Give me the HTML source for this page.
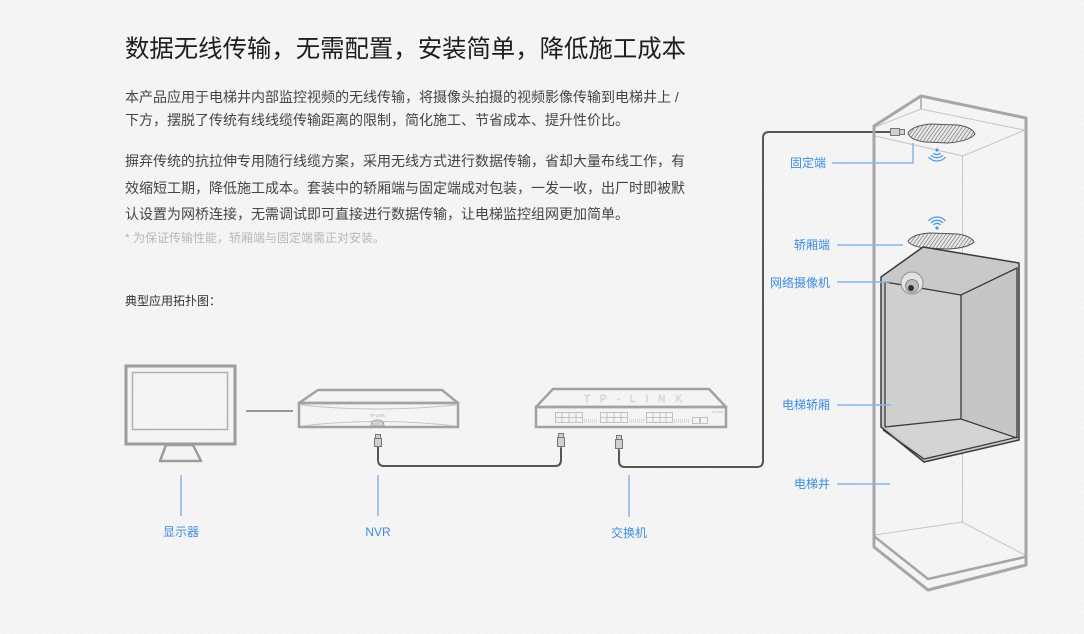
<!DOCTYPE html>
<html>
<head>
<meta charset="utf-8">
<style>
html,body{margin:0;padding:0;}
body{width:1084px;height:634px;overflow:hidden;position:relative;
background:#f5f5f5;
background-image:repeating-linear-gradient(135deg,rgba(0,0,0,0.012) 0 2px,rgba(255,255,255,0.0) 2px 5px);
font-family:"Liberation Sans","Noto Sans CJK SC",sans-serif;}
.t{position:absolute;white-space:nowrap;}
.title{left:125px;top:35px;font-size:24.4px;line-height:30px;color:#1e1e1e;}
.p{left:125px;font-size:14px;line-height:20px;color:#444;}
.note{left:125px;font-size:12px;line-height:20px;color:#b8b8b8;}
.topo{left:125px;font-size:12px;line-height:20px;color:#333;}
svg{position:absolute;left:0;top:0;}
</style>
</head>
<body>
<div class="t title">数据无线传输，无需配置，安装简单，降低施工成本</div>
<div class="t p" style="top:87px">本产品应用于电梯井内部监控视频的无线传输，将摄像头拍摄的视频影像传输到电梯井上 /</div>
<div class="t p" style="top:110px">下方，摆脱了传统有线线缆传输距离的限制，简化施工、节省成本、提升性价比。</div>
<div class="t p" style="top:151px">摒弃传统的抗拉伸专用随行线缆方案，采用无线方式进行数据传输，省却大量布线工作，有</div>
<div class="t p" style="top:178px">效缩短工期，降低施工成本。套装中的轿厢端与固定端成对包装，一发一收，出厂时即被默</div>
<div class="t p" style="top:204px">认设置为网桥连接，无需调试即可直接进行数据传输，让电梯监控组网更加简单。</div>
<div class="t note" style="top:228px">* 为保证传输性能，轿厢端与固定端需正对安装。</div>
<div class="t topo" style="top:291px">典型应用拓扑图：</div>

<svg width="1084" height="634" viewBox="0 0 1084 634" xmlns="http://www.w3.org/2000/svg">
<defs>
<pattern id="hatch" width="3" height="3" patternUnits="userSpaceOnUse" patternTransform="rotate(35)">
<rect width="3" height="3" fill="#e6e6e6"/>
<line x1="0" y1="0" x2="0" y2="3" stroke="#555" stroke-width="1"/>
</pattern>
</defs>

<!-- Monitor -->
<rect x="126" y="366" width="109" height="78" fill="none" stroke="#9c9c9c" stroke-width="3"/>
<rect x="132.5" y="372.5" width="95" height="57" fill="none" stroke="#b0b0b0" stroke-width="1.5"/>
<polygon points="166,445 193,445 201,461 160,461" fill="none" stroke="#9c9c9c" stroke-width="2.5" stroke-linejoin="round"/>

<!-- monitor-NVR line -->
<line x1="246" y1="411" x2="293" y2="411" stroke="#777" stroke-width="1.5"/>

<!-- NVR -->
<polygon points="318,390 442,390 458,403 299,403" fill="none" stroke="#a2a2a2" stroke-width="2.5" stroke-linejoin="round"/>
<rect x="299" y="403" width="159" height="24" fill="none" stroke="#a2a2a2" stroke-width="2.5"/>
<path d="M301,405 Q377,413 456,405" fill="none" stroke="#c4c4c4" stroke-width="1"/>
<path d="M301,426 Q377,417 456,426" fill="none" stroke="#c4c4c4" stroke-width="1"/>
<text x="377.5" y="417" font-size="4" fill="#aaa" text-anchor="middle" font-family="Liberation Serif,serif">TP-LINK</text>
<path d="M371,426 Q371,420 377.5,420 Q384,420 384,426 Z" fill="#d0d0d0" stroke="#999" stroke-width="0.8"/>
<line x1="374" y1="409" x2="375" y2="409" stroke="#ccc"/><line x1="378" y1="409" x2="379" y2="409" stroke="#ccc"/><line x1="382" y1="409" x2="383" y2="409" stroke="#ccc"/>

<!-- Switch -->
<polygon points="553,389 709,389 726,407 536,407" fill="none" stroke="#a2a2a2" stroke-width="2.5" stroke-linejoin="round"/>
<rect x="536" y="407" width="190" height="20" fill="none" stroke="#a2a2a2" stroke-width="2.5"/>
<text x="584" y="402" font-size="10" fill="none" stroke="#d4d4d4" stroke-width="0.7" textLength="98" lengthAdjust="spacing" font-family="Liberation Sans,sans-serif">TP-LINK</text>
<g fill="none" stroke="#b4b4b4" stroke-width="0.8">
<rect x="555.5" y="412.5" width="27" height="10"/><line x1="555.5" y1="417.5" x2="582.5" y2="417.5"/>
<line x1="562" y1="412.5" x2="562" y2="422.5"/><line x1="569" y1="412.5" x2="569" y2="422.5"/><line x1="576" y1="412.5" x2="576" y2="422.5"/>
<rect x="600.5" y="412.5" width="27" height="10"/><line x1="600.5" y1="417.5" x2="627.5" y2="417.5"/>
<line x1="607" y1="412.5" x2="607" y2="422.5"/><line x1="614" y1="412.5" x2="614" y2="422.5"/><line x1="621" y1="412.5" x2="621" y2="422.5"/>
<rect x="646.5" y="412.5" width="26" height="10"/><line x1="646.5" y1="417.5" x2="672.5" y2="417.5"/>
<line x1="653" y1="412.5" x2="653" y2="422.5"/><line x1="660" y1="412.5" x2="660" y2="422.5"/><line x1="666" y1="412.5" x2="666" y2="422.5"/>
<rect x="692.5" y="417.5" width="7" height="6"/><rect x="700.5" y="417.5" width="7" height="6"/>
</g>
<g stroke="#bdbdbd" stroke-width="1" stroke-dasharray="1,1">
<line x1="584" y1="420" x2="598" y2="420"/><line x1="584" y1="422" x2="598" y2="422"/>
<line x1="629" y1="420" x2="644" y2="420"/><line x1="629" y1="422" x2="644" y2="422"/>
<line x1="674" y1="420" x2="690" y2="420"/><line x1="674" y1="422" x2="690" y2="422"/>
</g>
<text x="712" y="413" font-size="3" fill="#aaa" font-family="Liberation Sans,sans-serif">TP-LINK</text>

<!-- cables -->
<g fill="none" stroke="#555" stroke-width="2" stroke-linecap="round">
<path d="M378,447 L378,460 Q378,466 384,466 L555,466 Q561,466 561,460 L561,448"/>
<path d="M619,450 L619,461 Q619,467 625,467 L757,467 Q763,467 763,461 L763,138 Q763,132 769,132 L891,132"/>
</g>
<!-- connectors -->
<g fill="#cfcfcf" stroke="#777" stroke-width="1">
<rect x="375.5" y="434.5" width="5" height="4"/><rect x="374.5" y="438.5" width="7" height="8"/>
<rect x="558.5" y="433.5" width="5" height="4"/><rect x="557.5" y="437.5" width="7" height="9"/>
<rect x="616.5" y="435.5" width="5" height="4"/><rect x="615.5" y="439.5" width="7" height="9"/>
<rect x="890.5" y="128.5" width="9" height="7"/><rect x="899.5" y="129.5" width="5" height="5"/>
</g>

<!-- blue leaders bottom -->
<g stroke="#86b7ea" stroke-width="1.5">
<line x1="181" y1="475" x2="181" y2="516"/>
<line x1="378" y1="475" x2="378" y2="516"/>
<line x1="629" y1="475" x2="629" y2="517"/>
</g>
<text x="181" y="536" font-size="12" fill="#3b8de0" text-anchor="middle" font-family="Liberation Sans,'Noto Sans CJK SC',sans-serif">显示器</text>
<text x="378" y="536" font-size="12" fill="#3b8de0" text-anchor="middle" font-family="Liberation Sans,'Noto Sans CJK SC',sans-serif">NVR</text>
<text x="629" y="537" font-size="12" fill="#3b8de0" text-anchor="middle" font-family="Liberation Sans,'Noto Sans CJK SC',sans-serif">交换机</text>

<!-- Shaft -->
<g fill="none" stroke="#c4c4c4" stroke-width="1">
<polyline points="875,127 921,109 1024,130"/>
<polyline points="875,136 963,156 1025,130"/>
<line x1="962.5" y1="156" x2="962.5" y2="522"/>
<polyline points="875,535 962,522 1025,555"/>
</g>
<g fill="none" stroke="#a6a6a6" stroke-width="3" stroke-linejoin="round">
<path d="M874,547 L874,126 L921,96 L1026,118 L1026,565 L928,590 Z"/>
<line x1="921" y1="96" x2="921" y2="109" stroke-width="1.5"/>
<polyline points="875,537 928,579 1025,557" stroke-width="2.5"/>
</g>

<!-- fixed AP -->
<path d="M908,133 Q912,126 930,124 L958,125 Q972,127 975,134 Q970,141 948,143 L925,142 Q910,140 908,133 Z" fill="url(#hatch)" stroke="#555" stroke-width="1"/>
<!-- wifi down -->
<g fill="none" stroke="#4a9be8" stroke-width="1.3">
<circle cx="937" cy="150" r="1.6" fill="#4a9be8" stroke="none"/>
<path d="M933.5,153 A4.5,4.5 0 0 0 940.5,153"/>
<path d="M931,155 A8,8 0 0 0 943,155"/>
<path d="M928.5,157 A11,11 0 0 0 945.5,157"/>
</g>
<!-- car AP -->
<path d="M908,241 Q913,234 930,233 L958,234 Q971,236 974,242 Q968,248 948,249 L925,248 Q910,246 908,241 Z" fill="url(#hatch)" stroke="#555" stroke-width="1"/>
<g fill="none" stroke="#4a9be8" stroke-width="1.3">
<circle cx="937" cy="228" r="1.6" fill="#4a9be8" stroke="none"/>
<path d="M933.5,225 A4.5,4.5 0 0 1 940.5,225"/>
<path d="M931,223 A8,8 0 0 1 943,223"/>
<path d="M928.5,221 A11,11 0 0 1 945.5,221"/>
</g>

<!-- Elevator car -->
<polygon points="881,277 923,247 1019,263 1019,440 924,462 881,427" fill="#c9c9c9" stroke="#3a3a3a" stroke-width="1.5" stroke-linejoin="round"/>
<polygon points="885,282 961,295 961,419 885,427" fill="#cfcfcf" stroke="none"/>
<polygon points="961,295 1017,268 1017,438 961,419" fill="#c6c6c6" stroke="none"/>
<polygon points="885,427 961,419 1017,438 924,458" fill="#d4d4d4" stroke="none"/>
<g fill="none" stroke="#3a3a3a" stroke-width="1.3">
<polyline points="885,427 885,282 961,295 1017,268 1017,438"/>
<line x1="961" y1="295" x2="961" y2="419"/>
<polyline points="885,427 961,419 1017,438"/>
<polyline points="883,430 924,459 1018,437"/>
</g>
<!-- camera -->
<circle cx="912" cy="283" r="11" fill="#e4e4e4" stroke="#9a9a9a" stroke-width="1.2"/>
<circle cx="912" cy="286" r="6.5" fill="#bdbdbd" stroke="#888" stroke-width="1"/>
<circle cx="911" cy="288" r="3" fill="#2e2e2e"/>

<!-- right leaders -->
<g fill="none" stroke="#86b7ea" stroke-width="1.5">
<polyline points="832,163 913,163 913,143"/>
<line x1="837" y1="245" x2="903" y2="245"/>
<line x1="837" y1="282" x2="890" y2="282"/>
<line x1="837" y1="405" x2="891" y2="405"/>
<line x1="837" y1="484" x2="890" y2="484"/>
</g>
<g font-size="12" fill="#3b8de0" text-anchor="end" font-family="Liberation Sans,'Noto Sans CJK SC',sans-serif">
<text x="826" y="167">固定端</text>
<text x="830" y="249">轿厢端</text>
<text x="830" y="287">网络摄像机</text>
<text x="830" y="409">电梯轿厢</text>
<text x="830" y="488">电梯井</text>
</g>
</svg>
</body>
</html>
